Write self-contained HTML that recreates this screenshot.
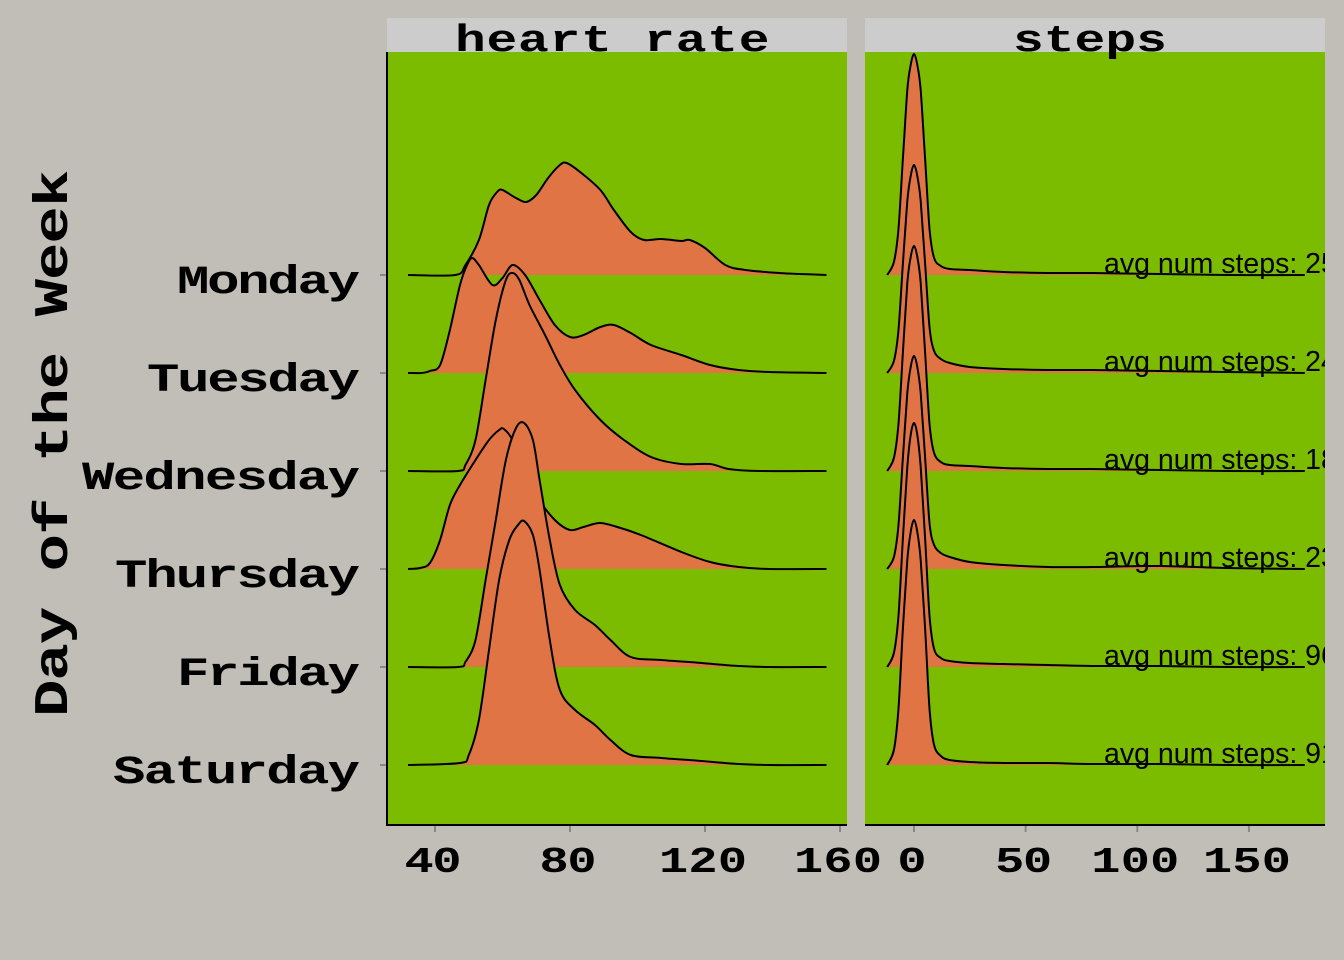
<!DOCTYPE html>
<html><head><meta charset="utf-8"><style>
html,body{margin:0;padding:0;background:#C1BEB7;}
svg{display:block;}
.px{font-family:"Liberation Mono","DejaVu Sans Mono",monospace;font-weight:bold;fill:#000;}
.lab{font-family:"Liberation Sans",sans-serif;font-size:28.5px;fill:#000;}
</style></head><body>
<svg id="chart" width="1344" height="960" viewBox="0 0 1344 960">
<rect width="1344" height="960" fill="#C1BEB7"/>
<defs>
<clipPath id="clipL"><rect x="387" y="52" width="460" height="773"/></clipPath>
<clipPath id="clipR"><rect x="865" y="52" width="460" height="773"/></clipPath>
</defs>
<rect x="387" y="52" width="460" height="773" fill="#7BBB00"/>
<rect x="865" y="52" width="460" height="773" fill="#7BBB00"/>
<rect x="387" y="18" width="460" height="34" fill="#CCCCCC"/>
<rect x="865" y="18" width="460" height="34" fill="#CCCCCC"/>
<text class="px" transform="translate(455,51) scale(1.35,1)" font-size="38" textLength="233" lengthAdjust="spacing">heart rate</text>
<text class="px" transform="translate(1013,51) scale(1.35,1)" font-size="38" textLength="114" lengthAdjust="spacing">steps</text>
<g id="ridgesL" clip-path="url(#clipL)"></g>
<g id="ridgesR" clip-path="url(#clipR)"></g>
<g id="axes"></g>
<text class="px" transform="translate(67,717) rotate(-90) scale(1.3,1)" font-size="48" textLength="421" lengthAdjust="spacing">Day of the Week</text>
</svg>
<script>
const days = ["Monday","Tuesday","Wednesday","Thursday","Friday","Saturday"];
const hrTicks = [40,80,120,160];
const stTicks = [0,50,100,150];
const stepLabels = ["avg num steps: 2512","avg num steps: 2430","avg num steps: 1876","avg num steps: 2318","avg num steps:  968","avg num steps:  912"];
// heart rate densities (bpm, height units)
const hrMonX = [32,46,49,53,56,58.4,60,64,67,70,73.5,77,79,83,89,93,98,102,107,113,115.5,120,126,132,142,148,156];
const hrMonY = [0,0,10,35,70,83,85,77,73,80,97,110,112,103,85,65,43,35,36,34,35,27,10,5,2,1,0];
const hrTueX = [32,36,38.5,41.5,44.4,47.4,49.5,51,53,57,60,63,66.7,71,75.5,80,84,89,93,98,104,113,121.5,130,139,156];
const hrTueY = [0,0,2,8,43,88,108,115,108,88,95,108,98,73,48,36,38,46,48,40,28,18,8,3,1,0];
const hrWedX = [32,46.8,49,52,55,58,61,63,65,68,72.6,77,81.5,89,96,104,113,121.5,127,136,156];
const hrWedY = [0,0,6,31,91,151,191,198,191,166,136,106,81,51,31,14,7,7,2,0,0];
const hrThuX = [32,35.6,38.5,41.5,44.4,47.4,52,56,59,60.4,63,67,71,75.5,80,84,89,95,101,113,121.5,130,139,156];
const hrThuY = [0,1,6,29,64,84,109,129,139,140,129,99,69,49,39,42,46,41,34,17,7,2,0,0];
const hrFriX = [32,46.8,49,52,55,58,61,64,66.4,69,71,74,77,81.5,87.4,92,98,107,119,130,139,156];
const hrFriY = [0,0,5,27,87,147,207,239,244,227,187,127,82,57,42,27,10,7,4,1,0,0];
const hrSatX = [32,47.4,50,53,56,59,62,64.6,66.4,69,71,74,77,81.5,87.4,92,98,107,119,130,139,156];
const hrSatY = [0,2,10,45,115,185,225,240,244,230,195,125,75,55,40,25,10,7,4,1,0,0];
// steps densities on shared grid
const stX = [-12,-9,-7,-5,-3,-1.5,0,1.5,3,5,7,9,12,16,25,40,60,80,110,140,175];
const stMon = [0,13,45,115,185,210,221,210,185,115,45,17,9,6,5,3,2,2,1,0,0];
const stTue = [0,12,42,108,172,197,208,197,172,108,45,22,14,10,6,4,3,3,2,1,0];
const stWed = [0,13,46,117,188,214,225,214,188,117,46,18,9,6,5,3,2,2,1,0,0];
const stThu = [0,12,43,110,176,202,213,202,176,110,45,24,16,12,7,4,2,2,3,1,0];
const stFri = [0,14,50,127,200,232,244,232,200,127,50,18,9,6,4,3,2,1,1,0,0];
const stSat = [0,15,55,135,205,233,245,233,205,135,55,20,9,5,3,2,2,1,1,0,0];

const hrSeries = [[hrMonX,hrMonY],[hrTueX,hrTueY],[hrWedX,hrWedY],[hrThuX,hrThuY],[hrFriX,hrFriY],[hrSatX,hrSatY]];
const stSeries = [stMon,stTue,stWed,stThu,stFri,stSat];

const NS="http://www.w3.org/2000/svg";
const xHR = v => 435 + (v-40)*3.375;
const xST = v => 914 + v*2.233;
const yBase = i => 275 + i*98;
const hScale = 1;

function smoothPath(pts){
  let d = "M"+pts[0][0].toFixed(1)+","+pts[0][1].toFixed(1);
  for(let i=0;i<pts.length-1;i++){
    const p0=pts[Math.max(0,i-1)],p1=pts[i],p2=pts[i+1],p3=pts[Math.min(pts.length-1,i+2)];
    const t=0.16;
    const c1x=p1[0]+(p2[0]-p0[0])*t, c1y=p1[1]+(p2[1]-p0[1])*t;
    const c2x=p2[0]-(p3[0]-p1[0])*t, c2y=p2[1]-(p3[1]-p1[1])*t;
    d+=" C"+c1x.toFixed(1)+","+c1y.toFixed(1)+" "+c2x.toFixed(1)+","+c2y.toFixed(1)+" "+p2[0].toFixed(1)+","+p2[1].toFixed(1);
  }
  return d;
}
function ridge(g, xs, ys, xf, i, name){
  const b=yBase(i);
  const pts = xs.map((v,k)=>[xf(v), b - ys[k]*hScale]);
  const line = smoothPath(pts);
  const f=document.createElementNS(NS,"path");
  f.setAttribute("d", line+" L"+pts[pts.length-1][0]+","+b+" L"+pts[0][0]+","+b+" Z");
  f.setAttribute("fill","#E07445");
  
  
  g.appendChild(f);
  const l=document.createElementNS(NS,"path");
  l.setAttribute("d", line);
  l.setAttribute("fill","none");
  l.setAttribute("stroke","#000");
  l.setAttribute("stroke-width","2");
  
  
  g.appendChild(l);
}
const gL=document.getElementById("ridgesL"), gR=document.getElementById("ridgesR");
days.forEach((d,i)=>{
  ridge(gL, hrSeries[i][0], hrSeries[i][1], xHR, i, "heart-rate-"+d.toLowerCase());
  ridge(gR, stX, stSeries[i], xST, i, "steps-"+d.toLowerCase());
  const t=document.createElementNS(NS,"text");
  t.setAttribute("class","lab");
  t.setAttribute("x","1104");
  t.setAttribute("y", yBase(i)-2);
  t.textContent=stepLabels[i];
  
  
  gR.appendChild(t);
});
const ax=document.getElementById("axes");
function line(x1,y1,x2,y2,c,w,name){
  const l=document.createElementNS(NS,"line");
  l.setAttribute("x1",x1);l.setAttribute("y1",y1);l.setAttribute("x2",x2);l.setAttribute("y2",y2);
  l.setAttribute("stroke",c);l.setAttribute("stroke-width",w);
  
  
  ax.appendChild(l);
}
const SX = 1.35;
function txt(x,y,s,size,len,anchor,name){
  const t=document.createElementNS(NS,"text");
  t.setAttribute("class","px");
  t.setAttribute("transform","translate("+x+","+y+") scale("+SX+",1)");
  t.setAttribute("font-size",size);
  t.setAttribute("textLength",(len/SX).toFixed(1));
  t.setAttribute("lengthAdjust","spacing");
  t.setAttribute("text-anchor",anchor);
  t.textContent=s;
  
  
  ax.appendChild(t);
}
line(387,52,387,826,"#000",2,"y-axis-line");
line(386,825,847,825,"#000",2,"heart-rate-x-axis-line");
line(865,825,1325,825,"#000",2,"steps-x-axis-line");
const dayWidths = {Monday:183,Tuesday:213,Wednesday:278,Thursday:245,Friday:183,Saturday:247};
days.forEach((d,i)=>{
  line(380,yBase(i),386,yBase(i),"#888",2,"y-tick-"+d.toLowerCase());
  txt(360,yBase(i)+18,d,40,dayWidths[d],"end","y-label-"+d.toLowerCase());
});
hrTicks.forEach(v=>{
  line(xHR(v),826,xHR(v),832,"#888",2,"hr-tick-"+v);
  const w = String(v).length*31-5;
  txt(xHR(v)-2,872,String(v),36,w,"middle","hr-tick-label-"+v);
});
stTicks.forEach(v=>{
  line(xST(v),826,xST(v),832,"#888",2,"steps-tick-"+v);
  const w = String(v).length*31-5;
  txt(xST(v)-2,872,String(v),36,w,"middle","steps-tick-label-"+v);
});
</script>
</body></html>
